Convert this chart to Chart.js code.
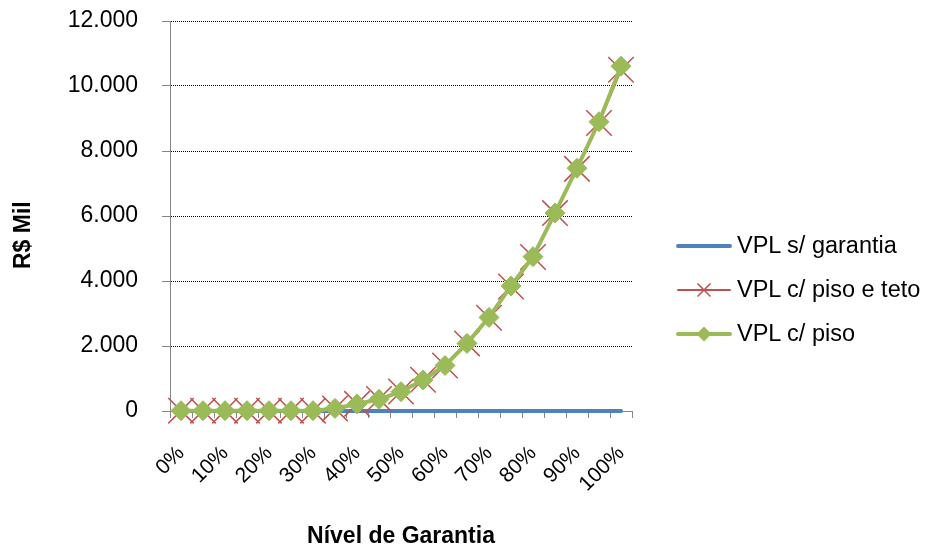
<!DOCTYPE html>
<html><head><meta charset="utf-8">
<script src="https://cdn.jsdelivr.net/npm/chart.js@4.4.1/dist/chart.umd.min.js"></script>
<style>
html,body{margin:0;padding:0;background:#fff;}
#wrap{position:relative;width:930px;height:544px;}
#legend{position:absolute;left:676px;top:223.5px;font-family:'Liberation Sans',Arial,sans-serif;font-size:23.5px;color:#000;}
#legend .row{display:flex;align-items:center;height:44px;white-space:nowrap;}
#legend canvas{display:block;margin-right:5px;}
</style>
</head><body><div id="wrap"><canvas id="c" width="930" height="544"></canvas><div id="legend"></div></div>
<script>
const categories = ['0%','5%','10%','15%','20%','25%','30%','35%','40%','45%','50%','55%','60%','65%','70%','75%','80%','85%','90%','95%','100%'];
const xTickLabels = ['0%','','10%','','20%','','30%','','40%','','50%','','60%','','70%','','80%','','90%','','100%'];
const yTickLabels = ['0','2.000','4.000','6.000','8.000','10.000','12.000'];
const seriesNames = ['VPL s/ garantia','VPL c/ piso e teto','VPL c/ piso'];
const vplSemGarantia = [0,0,0,0,0,0,0,0,0,0,0,0,0,0,0,0,0,0,0,0,0];
const vplPisoTeto = [10,10,10,10,10,10,10,80,220,370,600,960,1400,2080,2870,3830,4740,6090,7450,8860,10500];
const vplPiso = [10,10,10,10,10,10,10,80,215,360,595,955,1400,2080,2880,3845,4750,6090,7470,8900,10610];

const BLUE = '#4F81BD', RED = '#C0504D', GREEN = '#9BBB59';
const FONT = "'Liberation Sans', Arial, sans-serif";
const legendMarkers = [null, 'x', 'diamond'];

function makeSample(color, lineW, marker) {
  const c = document.createElement('canvas');
  c.width = 56; c.height = 24;
  const g = c.getContext('2d');
  g.strokeStyle = color; g.lineWidth = lineW; g.lineCap = 'round';
  g.beginPath(); g.moveTo(2, 12); g.lineTo(54, 12); g.stroke();
  const cx = 28, cy = 12;
  if (marker === 'x') {
    g.lineWidth = 1.5; g.lineCap = 'butt';
    g.beginPath();
    g.moveTo(cx - 6.5, cy - 6.5); g.lineTo(cx + 6.5, cy + 6.5);
    g.moveTo(cx + 6.5, cy - 6.5); g.lineTo(cx - 6.5, cy + 6.5);
    g.stroke();
  } else if (marker === 'diamond') {
    g.fillStyle = color;
    g.beginPath();
    g.moveTo(cx, cy - 7.5); g.lineTo(cx + 7.5, cy); g.lineTo(cx, cy + 7.5); g.lineTo(cx - 7.5, cy);
    g.closePath(); g.fill();
  }
  return c;
}

const chart = new Chart(document.getElementById('c'), {
  type: 'line',
  data: {
    labels: categories,
    datasets: [
      { label: seriesNames[0], data: vplSemGarantia, borderColor: BLUE, backgroundColor: BLUE,
        borderWidth: 4, pointRadius: 0, tension: 0, order: 3, clip: false, borderCapStyle: 'round' },
      { label: seriesNames[1], data: vplPisoTeto, borderColor: RED, backgroundColor: RED,
        borderWidth: 2, pointStyle: 'crossRot', pointRadius: 18, pointBorderWidth: 1.5,
        pointBorderColor: RED, tension: 0, order: 2, clip: false },
      { label: seriesNames[2], data: vplPiso, borderColor: GREEN, backgroundColor: GREEN,
        borderWidth: 4, pointStyle: 'rectRot', pointRadius: 10, pointBorderWidth: 1,
        pointBorderColor: GREEN, pointBackgroundColor: GREEN, tension: 0, order: 1, clip: false }
    ]
  },
  options: {
    responsive: false,
    animation: false,
    devicePixelRatio: 1,
    layout: { padding: { top: 21, right: 298, bottom: 0, left: 0 } },
    plugins: { tooltip: { enabled: false }, legend: { display: false } },
    scales: {
      x: {
        type: 'category',
        offset: true,
        afterFit: (s) => { s.height = 133; },
        border: { display: true, color: '#868686', width: 1 },
        grid: { display: true, drawOnChartArea: false, drawTicks: true, tickLength: 7,
                tickColor: '#868686', offset: true, tickWidth: 1 },
        ticks: { autoSkip: false, maxRotation: 45, minRotation: 45, padding: 23, color: '#000',
                 font: { family: FONT, size: 21 },
                 callback: (v, i) => xTickLabels[i] },
        title: { display: true, text: 'Nível de Garantia', color: '#000',
                 font: { family: FONT, size: 23, weight: 'bold' }, padding: { top: 0, bottom: -6 } }
      },
      y: {
        min: 0, max: 12000,
        afterFit: (s) => { s.width = 170; s.paddingTop = 0; s.paddingBottom = 0; },
        border: { display: true, color: '#868686', width: 1, dash: [1, 1] },
        grid: { color: (ctx) => ctx.tick && ctx.tick.value === 0 ? 'rgba(0,0,0,0)' : '#000',
                lineWidth: 1, drawTicks: true, tickLength: 8, tickColor: '#868686', tickBorderDash: [] },
        ticks: { stepSize: 2000, padding: 24, color: '#000', font: { family: FONT, size: 23 },
                 callback: (v, i) => yTickLabels[i] },
        title: { display: true, text: 'R$ Mil      ', color: '#000',
                 font: { family: FONT, size: 23, weight: 'bold' }, padding: { top: 10, bottom: 0 } }
      }
    }
  }
});

// HTML legend built from the chart's datasets
const legendEl = document.getElementById('legend');
chart.data.datasets.forEach((ds, i) => {
  const row = document.createElement('div');
  row.className = 'row';
  row.appendChild(makeSample(ds.borderColor, i === 1 ? 2 : 4, legendMarkers[i]));
  const span = document.createElement('span');
  span.textContent = ds.label;
  row.appendChild(span);
  legendEl.appendChild(row);
});
</script></body></html>
